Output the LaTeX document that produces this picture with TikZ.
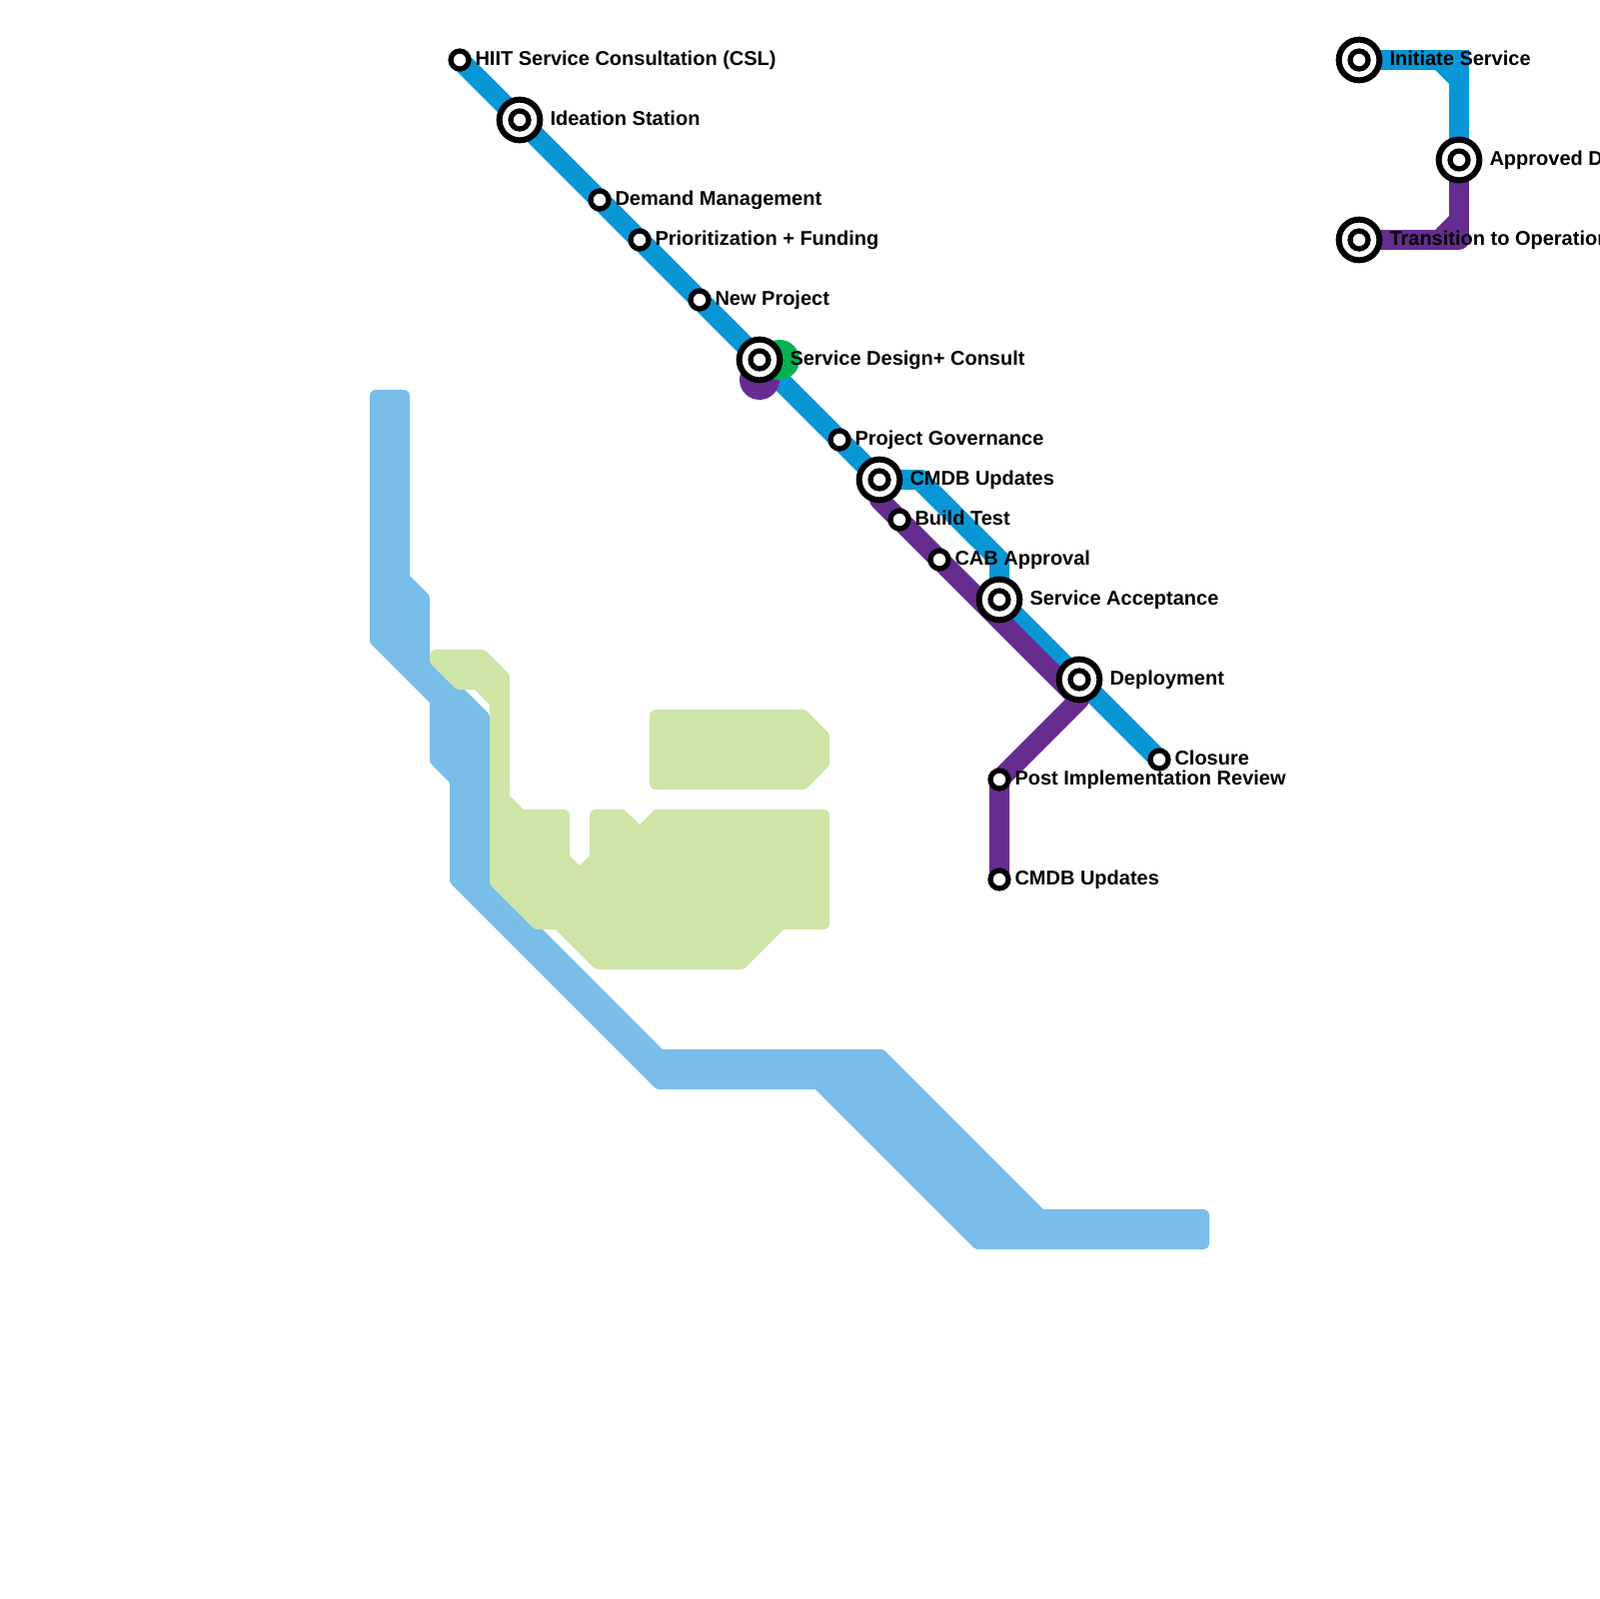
\documentclass[tikz,border=0pt]{standalone}
\usepackage{fontspec}
\setmainfont{Liberation Sans}
\usetikzlibrary{backgrounds}
\definecolor{lineblue}{HTML}{0896D7}
\definecolor{linepurple}{HTML}{662C90}
\definecolor{linegreen}{HTML}{00B251}
\definecolor{paleblue}{HTML}{79BDE9}
\definecolor{palegreen}{HTML}{CFE4A7}
\tikzset{
    stop/.style={circle,draw=black,fill=white,line width=0.52mm,minimum size=1.8mm,inner sep=0pt,outer sep=0pt},
    hub/.style={circle,draw=black,fill=white,line width=0.6mm,minimum size=4.07mm,inner sep=0pt,outer sep=0pt},
    stationtext/.style={anchor=base west,inner sep=0pt,outer sep=0pt,font=\fontsize{5.69pt}{6.8pt}\selectfont\bfseries},
    metroline/.style={line width=2mm,line join=miter},
    bigpatch/.style={rounded corners=0.6mm},
    smallpatch/.style={rounded corners=0.25mm}
}
\begin{document}
\begin{tikzpicture}[x=0.1mm,y=-0.1mm]
    \useasboundingbox (0,0) rectangle (1600,1600);

    %fermate piccole
    \foreach \x/\y/\n/\t in {460/60/hiit/HIIT Service Consultation (CSL),
        600/200/demand/Demand Management,
        640/240/priority/Prioritization + Funding,
        700/300/newproj/New Project,
        840/440/govern/Project Governance,
        900/520/build/Build Test,
        940/560/cab/CAB Approval,
        1160/760/closure/Closure,
        1000/780/pir/Post Implementation Review,
        1000/880/cmdbb/CMDB Updates}{
        \node[stop] (\n) at (\x,\y) {};
        \node[stationtext] (\n-t) at (\x+15.5,\y+5) {\t};
    }
    %fermate doppie
    \foreach \x/\y/\n/\t in {520/120/ideation/Ideation Station,
        760/360/design/Service Design+ Consult,
        880/480/cmdb/CMDB Updates,
        1000/600/accept/Service Acceptance,
        1080/680/deploy/Deployment,
        1360/60/initiate/Initiate Service,
        1460/160/approved/Approved D,
        1360/240/transition/Transition to Operation}{
        \node[hub] (\n) at (\x,\y) {};
        \node[stop] (\n-i) at (\x,\y) {};
        \node[stationtext] (\n-t) at (\x+30.5,\y+5) {\t};
    }

    \coordinate (bluebenda) at (920,480);
    \coordinate (bluebendb) at (1000,560);
    \coordinate (bluecorner) at (1460,60);
    \coordinate (purplestart) at (880,500);
    \coordinate (purplebend) at (1080,700);
    \coordinate (purplecorner) at (1460,240);

    \begin{scope}[on background layer]
        %fondo azzurro
        \fill[paleblue] (390,390)[bigpatch]--(410,390)[sharp corners]--(410,576)[smallpatch]--(430,596)
            [sharp corners]--(430,655)[smallpatch]--(490,715)[sharp corners]--(490,877)--(663,1050)
            [smallpatch]--(884,1050)[sharp corners]--(1044,1210)[bigpatch]--(1210,1210)--(1210,1250)
            [smallpatch]--(976,1250)[sharp corners]--(816,1090)[smallpatch]--(657,1090)--(450,883)
            [sharp corners]--(450,783)[smallpatch]--(430,763)[sharp corners]--(430,703)[smallpatch]--(370,643)
            [bigpatch]--(370,390)--cycle;
        %fondo verde
        \fill[palegreen] (460,650)[smallpatch]--(485,650)--(510,675)[sharp corners]--(510,796)--(524,810)
            [bigpatch]--(570,810)[sharp corners]--(570,856)--(580,866)--(590,856)
            [bigpatch]--(590,810)[smallpatch]--(625,810)[sharp corners]--(640,825)[smallpatch]--(655,810)
            [bigpatch]--(830,810)--(830,930)[sharp corners]--(784,930)[smallpatch]--(744,970)--(596,970)
            [sharp corners]--(556,930)[smallpatch]--(535,930)--(490,885)[sharp corners]--(490,705)--(475,690)
            [smallpatch]--(457,690)--(430,663)[bigpatch]--(430,650)--cycle;
        \fill[palegreen] (730,710)[smallpatch]--(806,710)--(830,734)--(830,766)--(806,790)
            [bigpatch]--(650,790)--(650,710)--cycle;

        %linea blu
        \draw[lineblue,metroline] (hiit.center)--(ideation.center)--(demand.center)--(priority.center)
            --(newproj.center)--(design.center)--(govern.center)--(cmdb.center);
        \draw[lineblue,metroline] (cmdb.center)--(bluebenda)--(bluebendb)--(accept.center);
        \draw[lineblue,metroline] (accept.center)--(deploy.center)--(closure.center);
        \draw[lineblue,metroline] (initiate.center)--(bluecorner)--(approved.center);
        \fill[lineblue] (1436,70)--(1450,70)--(1450,84)--cycle;

        %linea viola
        \draw[linepurple,metroline,line join=round] (cmdb.center)--(purplestart)--(build.center)--(cab.center)
            --(purplebend)--(pir.center)--(cmdbb.center);
        \draw[linepurple,metroline,line join=round] (approved.center)--(purplecorner)--(transition.center);
        \fill[linepurple] (1436,230)--(1450,230)--(1450,216)--cycle;

        %pallini
        \fill[linepurple] ([yshift=-2mm]design.center) circle (20);
        \fill[linegreen] ([xshift=2mm]design.center) circle (20);
    \end{scope}
\end{tikzpicture}
\end{document}
